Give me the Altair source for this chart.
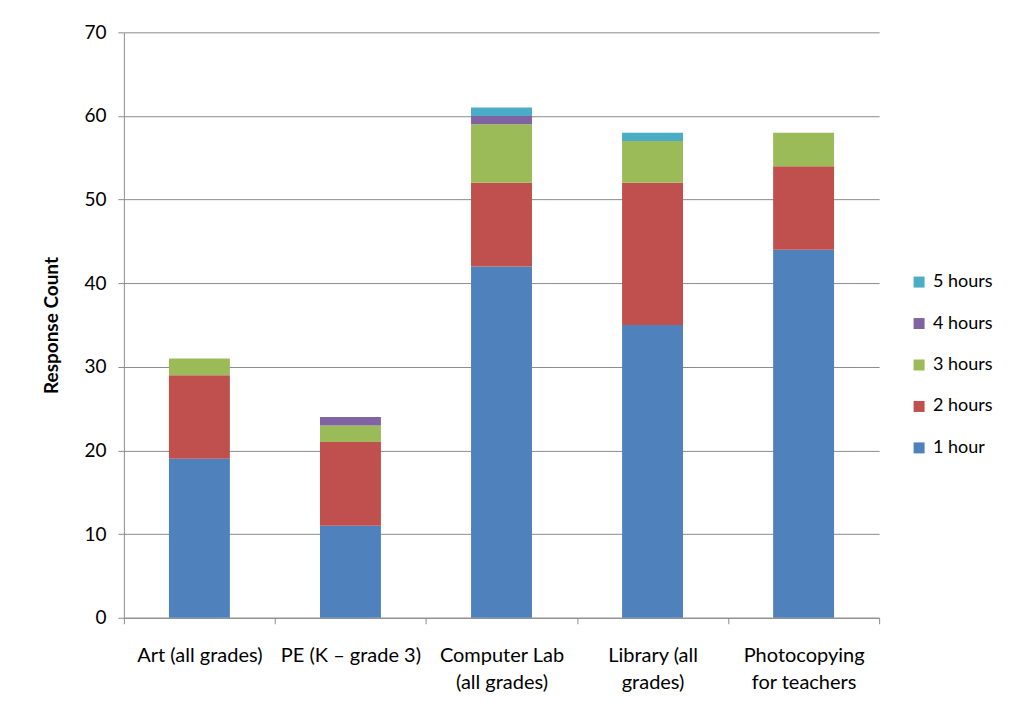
import altair as alt
import pandas as pd

categories = ["Art (all grades)", "PE (K \u2013 grade 3)", "Computer Lab|(all grades)",
              "Library (all|grades)", "Photocopying|for teachers"]
series = ["1 hour", "2 hours", "3 hours", "4 hours", "5 hours"]
hour_1 = [19, 11, 42, 35, 44]
hour_2 = [10, 10, 10, 17, 10]
hour_3 = [2, 2, 7, 5, 4]
hour_4 = [0, 1, 1, 0, 0]
hour_5 = [0, 0, 1, 1, 0]
colors = ["#4F81BD", "#C0504D", "#9BBB59", "#8064A2", "#4BACC6"]

rows = []
for si, (name, vals) in enumerate(zip(series, [hour_1, hour_2, hour_3, hour_4, hour_5])):
    for c, v in zip(categories, vals):
        rows.append({"category": c, "series": name, "order": si, "count": v})
df = pd.DataFrame(rows)

FONT = "Lato"

chart = alt.Chart(df).mark_bar(size=61).encode(
    x=alt.X("category:N", sort=categories, title=None,
            scale=alt.Scale(paddingInner=0, paddingOuter=0),
            axis=alt.Axis(labelAngle=0, tickBand="extent", tickSize=6, labelPadding=22,
                          labelFontSize=20, labelLineHeight=27, labelLimit=200,
                          labelExpr="split(datum.label, '|')",
                          grid=False, domainColor="#8c8c8c", tickColor="#8c8c8c")),
    y=alt.Y("count:Q", stack="zero", title="Response Count",
            scale=alt.Scale(domain=[0, 70], nice=False),
            axis=alt.Axis(values=list(range(0, 71, 10)), tickSize=6, labelPadding=12,
                          labelFontSize=19, titleFontSize=19, titleFontWeight="bold",
                          titlePadding=22, gridColor="#8c8c8c", domainColor="#8c8c8c",
                          tickColor="#8c8c8c")),
    color=alt.Color("series:N",
                    scale=alt.Scale(domain=series[::-1], range=colors[::-1]),
                    legend=alt.Legend(title=None, orient="none", legendX=787, legendY=241,
                                      symbolType="square", symbolSize=121,
                                      symbolStrokeWidth=0, labelFontSize=18,
                                      rowPadding=23.5, labelOffset=5, labelLimit=200)),
    order=alt.Order("order:Q", sort="ascending"),
).properties(
    width=756, height=586,
    autosize=alt.AutoSizeParams(type="none"),
    padding={"left": 116, "top": 24, "right": 128, "bottom": 85},
).configure_view(stroke=None).configure_axis(
    labelFont=FONT, titleFont=FONT, labelColor="#000", titleColor="#000"
).configure_legend(labelFont=FONT, labelColor="#000")

chart.save("out.html", embed_options={"renderer": "svg", "actions": False})
